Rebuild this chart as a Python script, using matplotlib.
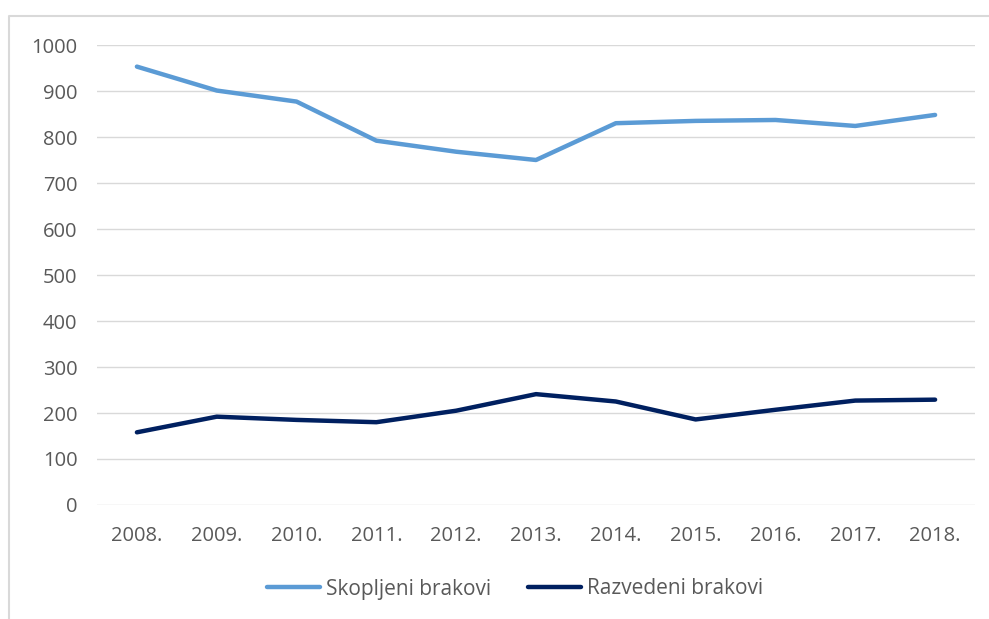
import matplotlib
matplotlib.use("Agg")
import matplotlib.pyplot as plt
from matplotlib.lines import Line2D

years = ["2008.", "2009.", "2010.", "2011.", "2012.", "2013.", "2014.", "2015.", "2016.", "2017.", "2018."]
skopljeni = [953, 901, 877, 792, 768, 750, 830, 835, 837, 824, 848]
razvedeni = [158, 192, 185, 180, 205, 241, 225, 186, 207, 227, 229]
yticks = [0, 100, 200, 300, 400, 500, 600, 700, 800, 900, 1000]

plt.rcParams['font.family'] = ['Open Sans', 'DejaVu Sans']
W, H = 989, 619
fig = plt.figure(figsize=(W / 100, H / 100), dpi=100)
fig.patch.set_facecolor("white")

# outer chart border (left and top edges visible)
bx, by = 8.5 / W, 1 - 15.5 / H
fig.add_artist(Line2D([bx, bx, 1.0], [0.0, by, by], transform=fig.transFigure,
                      color="#D9D9D9", lw=1.5))

left, right, top, bottom = 97, 975, 45, 505
ax = fig.add_axes([left / W, 1 - bottom / H, (right - left) / W, (bottom - top) / H])
x = list(range(len(years)))
ax.plot(x, skopljeni, color="#5B9BD5", lw=3.2, solid_capstyle="round", label="Skopljeni brakovi")
ax.plot(x, razvedeni, color="#002060", lw=3.2, solid_capstyle="round", label="Razvedeni brakovi")

ax.set_xlim(-0.5, len(years) - 0.5)
ax.set_ylim(0, 1000)
ax.set_yticks(yticks)
ax.set_yticklabels([str(v) for v in yticks])
ax.set_xticks(x)
ax.set_xticklabels(years)
ax.grid(axis="y", color="#D9D9D9", lw=1)
ax.set_axisbelow(True)
for s in ax.spines.values():
    s.set_visible(False)
ax.tick_params(axis="both", length=0, colors="#595959", labelsize=14.5)
ax.tick_params(axis="y", pad=14)
ax.tick_params(axis="x", pad=15)

leg = fig.legend(loc="center", bbox_to_anchor=(515 / W, 1 - 589 / H), ncol=2, frameon=False,
                 fontsize=15, handlelength=2.55, handletextpad=0.25, columnspacing=1.8)
for t in leg.get_texts():
    t.set_color("#595959")

fig.savefig("out.png", dpi=100, facecolor="white")
